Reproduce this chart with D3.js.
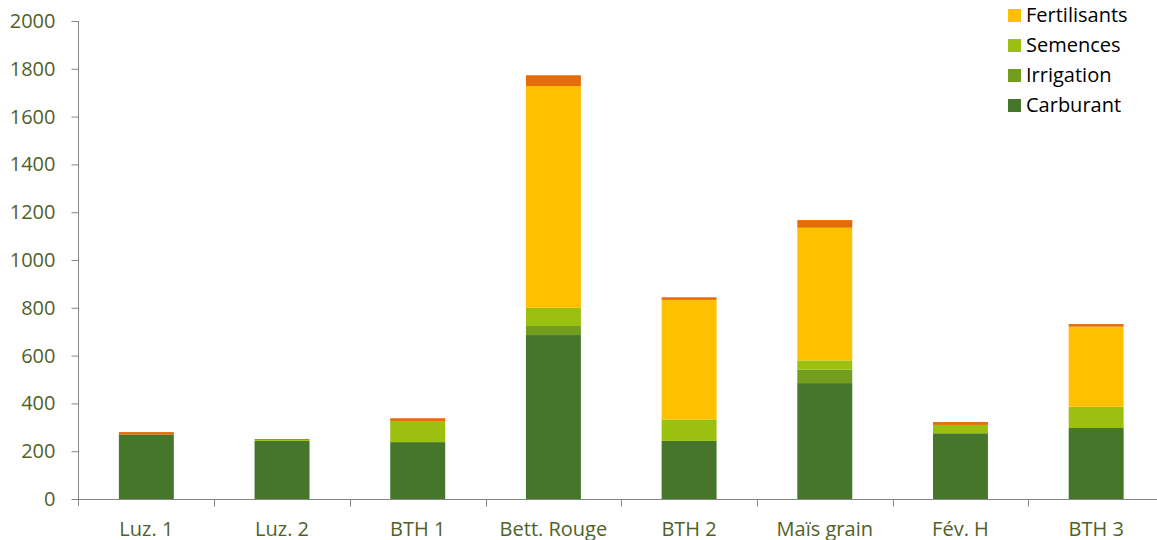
<!DOCTYPE html>
<html lang="fr">
	<head>
		<meta charset="utf-8">
		<title>Stacked bars</title>
		<script type="text/javascript" src="https://cdn.jsdelivr.net/npm/d3@7"></script>
		<style type="text/css">
			body { margin: 0; background: #fff; }
			.axis text {
				font-family: "Open Sans", sans-serif;
				font-size: 20px;
				fill: #4f6228;
			}
			.axis path, .axis line { stroke: #868686; }
			.legend text {
				font-family: "Open Sans", sans-serif;
				font-size: 20px;
				fill: #000;
			}
		</style>
	</head>
	<body>
		<script type="text/javascript">

			var w = 1157;
			var h = 540;

			//Data
			var categories = ["Luz. 1", "Luz. 2", "BTH 1", "Bett. Rouge", "BTH 2", "Maïs grain", "Fév. H", "BTH 3"];
			var carburant    = [270, 243, 238, 686, 243, 485, 275, 297];
			var irrigation   = [0, 0, 0, 38, 0, 56, 0, 0];
			var semences     = [0, 4, 88, 76, 90, 39, 35, 89];
			var fertilisants = [0, 0, 0, 928, 500, 555, 0, 335];
			var autres       = [10, 4, 12, 45, 11, 32, 12, 11];
			var yTicks = [0, 200, 400, 600, 800, 1000, 1200, 1400, 1600, 1800, 2000];

			var keys = ["Carburant", "Irrigation", "Semences", "Fertilisants", "Autres"];
			var colors = ["#46762a", "#729d1f", "#9bc010", "#ffc000", "#e46c0a"];
			var legendKeys = ["Fertilisants", "Semences", "Irrigation", "Carburant"];

			var dataset = categories.map(function(c, i) {
				return {
					cat: c,
					Carburant: carburant[i],
					Irrigation: irrigation[i],
					Semences: semences[i],
					Fertilisants: fertilisants[i],
					Autres: autres[i]
				};
			});

			var stack = d3.stack().keys(keys);
			var series = stack(dataset);

			var xScale = d3.scaleBand()
						.domain(categories)
						.range([78.5, 1164])
						.paddingInner(0.595)
						.paddingOuter(0.2975);

			var yScale = d3.scaleLinear()
						.domain([0, 2000])
						.range([499, 21]);

			var colorScale = d3.scaleOrdinal().domain(keys).range(colors);

			var svg = d3.select("body")
						.append("svg")
						.attr("width", w)
						.attr("height", h);

			//Bars
			svg.selectAll("g.series")
				.data(series)
				.enter()
				.append("g")
				.attr("class", "series")
				.attr("fill", function(d) { return colorScale(d.key); })
				.selectAll("rect")
				.data(function(d) { return d; })
				.enter()
				.append("rect")
				.attr("x", function(d) { return xScale(d.data.cat); })
				.attr("width", xScale.bandwidth())
				.attr("y", function(d) { return yScale(d[1]); })
				.attr("height", function(d) { return yScale(d[0]) - yScale(d[1]); });

			//Y axis
			var yAxis = d3.axisLeft(yScale)
						.tickValues(yTicks)
						.tickFormat(d3.format("d"))
						.tickSize(7)
						.tickSizeOuter(0)
						.tickPadding(16);

			svg.append("g")
				.attr("class", "axis")
				.attr("transform", "translate(78.5,0)")
				.call(yAxis)
				.call(function(g) { g.select(".domain").attr("d", "M0,21V506"); });

			//X axis, ticks between categories
			var step = xScale.step();
			var xEdges = d3.range(categories.length + 1).map(function(i) { return 78.5 + i * step; });

			var xg = svg.append("g")
				.attr("class", "axis")
				.attr("transform", "translate(0,499.5)");

			xg.append("line")
				.attr("x1", 78.5).attr("x2", w)
				.attr("y1", 0).attr("y2", 0);

			xg.selectAll("line.tick")
				.data(xEdges.slice(1))
				.enter()
				.append("line")
				.attr("class", "tick")
				.attr("x1", function(d) { return Math.round(d) + 0.5; })
				.attr("x2", function(d) { return Math.round(d) + 0.5; })
				.attr("y1", 0).attr("y2", 7);

			xg.selectAll("text")
				.data(categories)
				.enter()
				.append("text")
				.attr("x", function(d) { return xScale(d) + xScale.bandwidth() / 2; })
				.attr("y", 36)
				.attr("text-anchor", "middle")
				.text(function(d) { return d; });

			//Legend
			var legend = svg.append("g")
				.attr("class", "legend")
				.selectAll("g")
				.data(legendKeys)
				.enter()
				.append("g")
				.attr("transform", function(d, i) { return "translate(1008," + (15 + i * 30) + ")"; });

			legend.append("rect")
				.attr("x", 0).attr("y", -6)
				.attr("width", 13).attr("height", 13)
				.attr("fill", function(d) { return colorScale(d); });

			legend.append("text")
				.attr("x", 18)
				.attr("y", 7)
				.text(function(d) { return d; });

		</script>
	</body>
</html>
